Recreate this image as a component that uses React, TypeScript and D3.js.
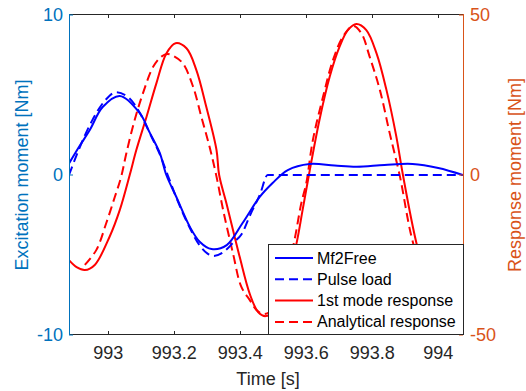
import React from "react";
import * as d3 from "d3";

const xTicks = [993, 993.2, 993.4, 993.6, 993.8, 994];
const leftTicks = [-10, 0, 10];
const rightTicks = [-50, 0, 50];

// Mf2Free (left axis)
const mfT = [992.881, 992.913, 992.944, 992.983, 993.035, 993.095, 993.126, 993.156, 993.176, 993.206, 993.247, 993.277, 993.313, 993.359, 993.407, 993.459, 993.498, 993.544, 993.61, 993.686, 993.753, 993.837, 993.922, 994.0, 994.075];
const mfV = [0.72, 1.81, 2.81, 4.25, 4.94, 3.88, 2.63, 1.38, 0, -1.36, -3.23, -4.17, -4.63, -4.38, -3.0, -1.37, -0.5, 0.31, 0.69, 0.59, 0.52, 0.63, 0.69, 0.44, 0];

// Pulse load (left axis)
const plT = [992.881, 992.913, 992.951, 992.988, 993.023, 993.064, 993.095, 993.126, 993.156, 993.18, 993.206, 993.247, 993.277, 993.3, 993.32, 993.35, 993.38, 993.404, 993.43, 993.46, 993.483, 993.7, 993.9, 994.075];
const plV = [0, 1.7, 3.4, 4.6, 5.17, 4.8, 3.9, 2.6, 1.3, 0, -1.4, -3.3, -4.4, -4.9, -5.06, -4.8, -4.2, -3.7, -2.5, -1.2, 0, 0, 0, 0];

// 1st mode response (right axis)
const fmT = [992.881, 992.904, 992.929, 992.959, 993.004, 993.035, 993.065, 993.085, 993.116, 993.146, 993.176, 993.204, 993.237, 993.267, 993.297, 993.328, 993.336, 993.358, 993.398, 993.429, 993.454, 993.477, 993.504, 993.534, 993.57, 993.589, 993.608, 993.64, 993.671, 993.701, 993.726, 993.752, 993.782, 993.813, 993.843, 993.873, 993.893, 993.934, 993.974, 994.02, 994.05, 994.075];
const fmV = [-26.6, -28.8, -29.7, -28.1, -19.3, -10.9, 0, 7.8, 18.2, 28.7, 38.0, 41.2, 39.6, 32.8, 21.3, 7.8, 0, -8.8, -25.5, -37.2, -42.8, -44.1, -42.2, -35.9, -21.6, -10.9, 0, 17.2, 30.7, 40.1, 45.3, 47.2, 45.3, 38.0, 26.6, 12.0, 0, -21.3, -35.9, -42.8, -43.8, -42.2];

// Analytical response (right axis)
const anT = [992.929, 992.964, 992.994, 993.02, 993.039, 993.055, 993.08, 993.105, 993.136, 993.161, 993.18, 993.201, 993.226, 993.257, 993.282, 993.307, 993.328, 993.348, 993.378, 993.403, 993.429, 993.449, 993.468, 993.489, 993.52, 993.56, 993.585, 993.6, 993.62, 993.651, 993.681, 993.711, 993.742, 993.767, 993.792, 993.823, 993.853, 993.884, 993.919, 993.959, 994.004, 994.04, 994.075];
const anV = [-28.1, -23.4, -15.0, -6.8, -0.6, 6.9, 17.2, 25.5, 33.8, 37.0, 37.8, 37.0, 34.9, 27.6, 18.2, 8.8, -0.5, -10.9, -24.5, -34.9, -39.1, -42.2, -43.4, -42.8, -37.5, -22.4, -8.8, -2.6, 10.9, 24.5, 35.9, 43.2, 46.6, 44.3, 37.0, 26.6, 13.0, -0.5, -19.3, -32.8, -41.6, -41.6, -35.9];

const legendLabels = ["Mf2Free", "Pulse load", "1st mode response", "Analytical response"];

const W = 526, H = 391;
const L = 69, R = 463, T = 15, B = 335;
const FONT = "'Liberation Sans', Arial, Helvetica, sans-serif";
const BLUE = "#0000ff", RED = "#ff0000";
const LCOL = "#0072BD", RCOL = "#D95319", DARK = "#262626";

export default function App() {
  const x = d3.scaleLinear().domain([992.881, 994.075]).range([L, R]);
  const yl = d3.scaleLinear().domain([-10, 10]).range([B, T]);
  const yr = d3.scaleLinear().domain([-50, 50]).range([B, T]);

  const mk = (ts: number[], vs: number[], ys: d3.ScaleLinear<number, number>, curve: d3.CurveFactory) =>
    d3.line<number>().x((_, i) => x(ts[i])).y((v) => ys(v)).curve(curve)(vs) || "";

  const series = [
    { d: mk(fmT, fmV, yr, d3.curveCatmullRom), color: RED, dash: undefined },
    { d: mk(anT, anV, yr, d3.curveCatmullRom), color: RED, dash: "9,5" },
    { d: mk(mfT, mfV, yl, d3.curveCatmullRom), color: BLUE, dash: undefined },
    { d: mk(plT, plV, yl, d3.curveMonotoneX), color: BLUE, dash: "9,5" },
  ];

  const legendItems = [
    { label: legendLabels[0], color: BLUE, dash: undefined },
    { label: legendLabels[1], color: BLUE, dash: "9,5" },
    { label: legendLabels[2], color: RED, dash: undefined },
    { label: legendLabels[3], color: RED, dash: "9,5" },
  ];

  const lgX = 268, lgY = 244, lgW = R - 268, lgH = B - 244;

  return (
    <svg width={W} height={H} style={{ display: "block", position: "absolute", left: 0, top: 0, background: "#fff" }} fontFamily={FONT}>
      <rect x={0} y={0} width={W} height={H} fill="#fff" />
      <defs>
        <clipPath id="plotclip">
          <rect x={L} y={T} width={R - L} height={B - T} />
        </clipPath>
      </defs>
      <g clipPath="url(#plotclip)">
        {series.map((s, i) => (
          <path key={i} d={s.d} fill="none" stroke={s.color} strokeWidth={2} strokeDasharray={s.dash} />
        ))}
      </g>
      <line x1={L} x2={R} y1={T - 0.5} y2={T - 0.5} stroke={DARK} strokeWidth={1} />
      <line x1={L} x2={R} y1={B - 0.5} y2={B - 0.5} stroke={DARK} strokeWidth={1} />
      <line x1={L + 0.5} x2={L + 0.5} y1={T - 1} y2={B} stroke={LCOL} strokeWidth={1} />
      <line x1={R + 0.5} x2={R + 0.5} y1={T - 1} y2={B} stroke={RCOL} strokeWidth={1} />
      {xTicks.map((t) => (
        <g key={t}>
          <line x1={Math.round(x(t)) + 0.5} x2={Math.round(x(t)) + 0.5} y1={B} y2={B - 4} stroke={DARK} />
          <line x1={Math.round(x(t)) + 0.5} x2={Math.round(x(t)) + 0.5} y1={T - 1} y2={T + 3} stroke={DARK} />
          <text x={x(t)} y={359} textAnchor="middle" fontSize={18} fill={DARK}>{t}</text>
        </g>
      ))}
      {leftTicks.map((v) => (
        <g key={v}>
          <line x1={L} x2={L + 4} y1={yl(v)} y2={yl(v)} stroke={LCOL} />
          <text x={63} y={yl(v) + 6} textAnchor="end" fontSize={18} fill={LCOL}>{v}</text>
        </g>
      ))}
      {rightTicks.map((v) => (
        <g key={v}>
          <line x1={R - 4} x2={R} y1={yr(v)} y2={yr(v)} stroke={RCOL} />
          <text x={470} y={yr(v) + 6} textAnchor="start" fontSize={18} fill={RCOL}>{v}</text>
        </g>
      ))}
      <text x={(L + R) / 2 + 2} y={385} textAnchor="middle" fontSize={18} fill={DARK}>Time [s]</text>
      <text transform={`translate(28,${(T + B) / 2}) rotate(-90)`} textAnchor="middle" fontSize={18} fill={LCOL}>Excitation moment [Nm]</text>
      <text transform={`translate(521,${(T + B) / 2}) rotate(-90)`} textAnchor="middle" fontSize={18} fill={RCOL}>Response moment [Nm]</text>
      <rect x={lgX + 0.5} y={lgY + 0.5} width={lgW} height={lgH - 1} fill="#fff" stroke={DARK} strokeWidth={1} />
      {legendItems.map((it, i) => {
        const cy = 258 + i * 21.3;
        return (
          <g key={it.label}>
            <line x1={275} x2={313} y1={cy} y2={cy} stroke={it.color} strokeWidth={2} strokeDasharray={it.dash} />
            <text x={317} y={cy + 5.5} fontSize={16} fill="#000">{it.label}</text>
          </g>
        );
      })}
    </svg>
  );
}
